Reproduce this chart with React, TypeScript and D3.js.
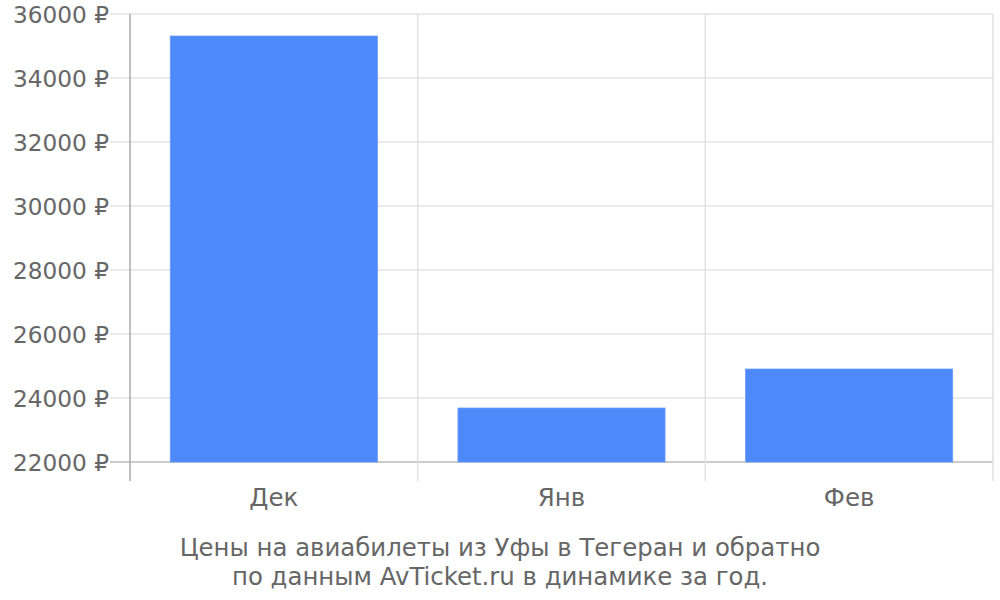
import React from "react";
import * as d3 from "d3";

const categories = ["Дек", "Янв", "Фев"];
const prices = [35312, 23687, 24906];
const yTicks = [22000, 24000, 26000, 28000, 30000, 32000, 34000, 36000];
const titleLines = [
  "Цены на авиабилеты из Уфы в Тегеран и обратно",
  "по данным AvTicket.ru в динамике за год.",
];

export default function App() {
  const W = 1000, H = 600;
  const left = 130, right = 993, top = 14, bottom = 462, axisBottom = 481;
  const x = d3.scaleBand<string>().domain(categories).range([left, right]).paddingInner(0).paddingOuter(0);
  const y = d3.scaleLinear().domain([22000, 36000]).range([bottom, top]);
  const bw = x.bandwidth();
  const barW = bw * 0.72;
  const font = "'DejaVu Sans', sans-serif";
  const textColor = "#666666";
  return (
    <svg width={W} height={H} style={{ position: "absolute", left: 0, top: 0, background: "#fff" }} fontFamily={font}>
      {yTicks.map((t) => (
        <line key={"g" + t} x1={110} x2={right} y1={y(t)} y2={y(t)} stroke={t === 22000 ? "#cccccc" : "#e3e3e3"} strokeWidth={t === 22000 ? 2 : 1.5} />
      ))}
      {categories.map((c, i) => (
        <line key={"v" + c} x1={x(c)! + bw} x2={x(c)! + bw} y1={top} y2={axisBottom} stroke="#e0e0e0" strokeWidth={1.5} />
      ))}
      <line x1={left} x2={left} y1={top} y2={axisBottom} stroke="#aaaaaa" strokeWidth={1.5} />
      {categories.map((c, i) => (
        <rect key={"b" + c} x={x(c)! + (bw - barW) / 2} width={barW} y={y(prices[i])} height={bottom - y(prices[i])} fill="#4d89f9" stroke="#6a9cf9" strokeWidth={0.8} />
      ))}
      {yTicks.map((t) => (
        <text key={"t" + t} x={109} y={y(t)} textAnchor="end" dominantBaseline="central" fontSize={23.2} fill={textColor}>
          {t} ₽
        </text>
      ))}
      {categories.map((c) => (
        <text key={"l" + c} x={x(c)! + bw / 2} y={497} textAnchor="middle" dominantBaseline="central" fontSize={24.5} fill={textColor}>
          {c}
        </text>
      ))}
      {titleLines.map((l, i) => (
        <text key={"tt" + i} x={500} y={547 + i * 29} textAnchor="middle" dominantBaseline="central" fontSize={24.4} fill={textColor}>
          {l}
        </text>
      ))}
    </svg>
  );
}
